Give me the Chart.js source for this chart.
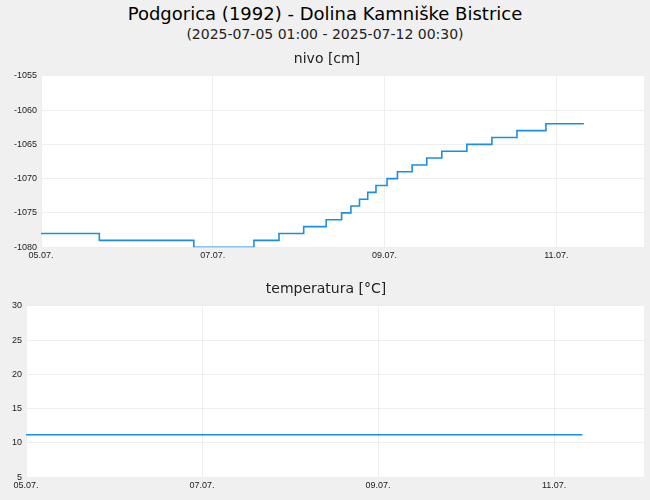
<!DOCTYPE html>
<html><head><meta charset="utf-8">
<script src="https://cdn.jsdelivr.net/npm/chart.js@4"></script>
<style>
body{margin:0;background:#f0f0f0;width:650px;height:500px;overflow:hidden;font-family:"DejaVu Sans"}
#t1{position:absolute;top:3px;width:650px;text-align:center;font-size:18px;color:#000}
#t2{position:absolute;top:26px;width:650px;text-align:center;font-size:14px;color:#222}
.w{position:absolute;left:0;width:650px;height:215px}
</style></head><body>
<div id="t1">Podgorica (1992) - Dolina Kamniške Bistrice</div>
<div id="t2">(2025-07-05 01:00 - 2025-07-12 00:30)</div>
<div class="w" style="top:49px"><canvas id="c1"></canvas></div>
<div class="w" style="top:279px"><canvas id="c2"></canvas></div>
<script>
// hours since 05.07. 00:00 where the level changes
const levelHours = [0, 16.3, 42.7, 59.5, 66.5, 73.4, 79.7, 84, 86.6, 89, 91.3, 93.6, 96.7, 99.6, 103.7, 107.8, 112, 119, 126, 133, 141.1, 151.7];
const levelValues = [-1078, -1079, -1080, -1079, -1078, -1077, -1076, -1075, -1074, -1073, -1072, -1071, -1070, -1069, -1068, -1067, -1066, -1065, -1064, -1063, -1062, -1062];
const tempHours = [0, 151.7];
const tempValues = [11.2, 11.2];
const tickLabels = {0: '05.07.', 48: '07.07.', 96: '09.07.', 144: '11.07.'};

function makeChart(id, hours, values, title, min, max, step, padL) {
  const data = hours.map((h, i) => ({x: h, y: values[i]}));
  new Chart(document.getElementById(id), {
    type: 'line',
    data: {datasets: [{data, borderColor: '#1a8ee6', borderWidth: 1.6, pointRadius: 0, stepped: true}]},
    options: {
      responsive: true, maintainAspectRatio: false, animation: false,
      layout: {padding: {left: padL, right: 6}},
      plugins: {legend: {display: false},
        title: {display: true, text: title, font: {size: 14, weight: 'normal', family: 'DejaVu Sans'}, color: '#222', padding: {top: 2, bottom: 8}}},
      scales: {
        x: {type: 'linear', min: 0, max: 168.5,
          ticks: {autoSkip: false, maxRotation: 0, font: {size: 9}, color: '#222',
            callback: v => tickLabels[v] || ''},
          afterBuildTicks: a => { a.ticks = [0, 48, 96, 144].map(v => ({value: v})); },
          grid: {color: '#eeeeee', drawTicks: false}, border: {display: false}},
        y: {min, max, ticks: {stepSize: step, font: {size: 9}, color: '#222', padding: 4, callback: v => String(v)},
          grid: {color: '#eeeeee', drawTicks: false}, border: {display: false}}
      }
    },
    plugins: [{id: 'bg', beforeDraw(c) {
      const a = c.chartArea, x = c.ctx;
      x.save(); x.fillStyle = '#fff'; x.fillRect(a.left, a.top, a.right - a.left, a.bottom - a.top); x.restore();
    }}]
  });
}
makeChart('c1', levelHours, levelValues, 'nivo [cm]', -1080, -1055, 5, 10);
makeChart('c2', tempHours, tempValues, 'temperatura [°C]', 5, 30, 5, 8);
</script>
</body></html>
